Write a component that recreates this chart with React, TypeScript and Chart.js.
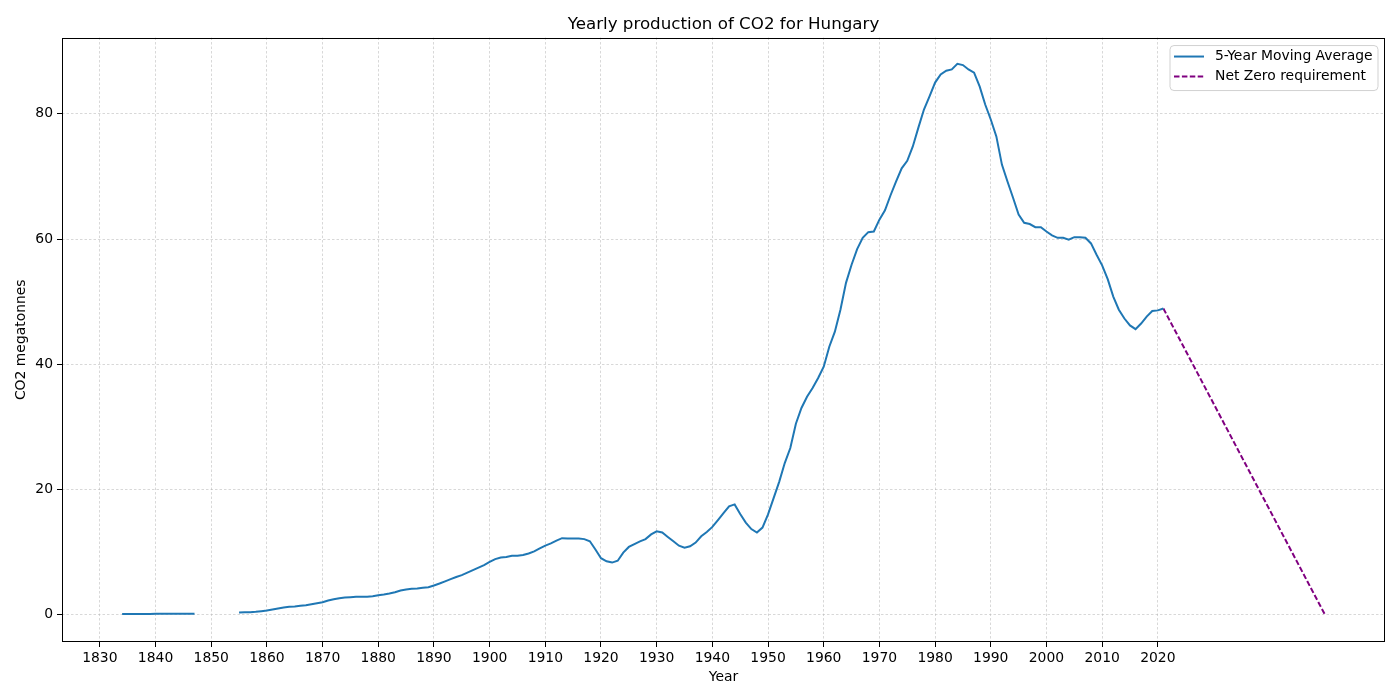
import { useEffect, useRef } from "react";
import { Chart, registerables } from "chart.js";

Chart.register(...registerables);

const FONT = "'DejaVu Sans', 'Liberation Sans', sans-serif";

const chartTitle = "Yearly production of CO2 for Hungary";
const xAxisTitle = "Year";
const yAxisTitle = "CO2 megatonnes";
const seriesLabels = ["5-Year Moving Average", "Net Zero requirement"];

// yearly values starting at firstYear (null = no data)
const firstYear = 1834;
const co2Values: (number | null)[] = [
  // 1834-1847
  0.1, 0.1, 0.1, 0.1, 0.1, 0.1, 0.12, 0.12, 0.12, 0.13, 0.13, 0.13, 0.13, 0.13,
  // 1848-1854
  null, null, null, null, null, null, null,
  // 1855-1889
  0.32, 0.37, 0.37, 0.43, 0.53, 0.64, 0.8, 0.96, 1.12, 1.23, 1.28, 1.39, 1.5, 1.65, 1.81,
  1.97, 2.24, 2.45, 2.61, 2.72, 2.77, 2.83, 2.83, 2.83, 2.93, 3.09, 3.2, 3.36, 3.57, 3.84,
  4.0, 4.1, 4.16, 4.27, 4.37,
  // 1890-1899
  4.64, 4.95, 5.3, 5.65, 6.0, 6.3, 6.7, 7.1, 7.5, 7.9,
  // 1900-1909
  8.4, 8.85, 9.1, 9.2, 9.4, 9.4, 9.5, 9.76, 10.1, 10.56,
  // 1910-1919
  11.0, 11.36, 11.8, 12.2, 12.16, 12.16, 12.16, 12.05, 11.7, 10.4,
  // 1920-1929
  9.0, 8.5, 8.3, 8.6, 9.9, 10.8, 11.25, 11.7, 12.05, 12.8,
  // 1930-1939
  13.3, 13.1, 12.4, 11.7, 11.0, 10.67, 10.9, 11.5, 12.5, 13.2,
  // 1940-1949
  14.0, 15.1, 16.2, 17.3, 17.6, 16.05, 14.7, 13.65, 13.1, 13.9,
  // 1950-1959
  16.0, 18.6, 21.2, 24.2, 26.6, 30.5, 33.0, 34.8, 36.2, 37.8,
  // 1960-1969
  39.6, 42.8, 45.2, 48.7, 53.0, 55.9, 58.4, 60.2, 61.1, 61.2,
  // 1970-1979
  63.1, 64.6, 67.0, 69.2, 71.3, 72.5, 74.8, 77.8, 80.7, 82.8,
  // 1980-1989
  85.0, 86.3, 86.9, 87.1, 88.0, 87.8, 87.1, 86.6, 84.4, 81.5,
  // 1990-1999
  79.1, 76.4, 71.9, 69.2, 66.6, 63.9, 62.6, 62.4, 61.9, 61.9,
  // 2000-2009
  61.2, 60.6, 60.2, 60.2, 59.9, 60.3, 60.3, 60.2, 59.3, 57.5,
  // 2010-2019
  55.8, 53.6, 50.8, 48.7, 47.3, 46.2, 45.6, 46.5, 47.6, 48.5,
  // 2020-2021
  48.6, 48.9,
];

const netZeroYears = [2021, 2050];
const netZeroValues = [48.9, 0];

const xTickYears = [1830, 1840, 1850, 1860, 1870, 1880, 1890, 1900, 1910, 1920, 1930, 1940, 1950, 1960, 1970, 1980, 1990, 2000, 2010, 2020];
const yTickValues = [0, 20, 40, 60, 80];

const BLUE = "#1f77b4";
const PURPLE = "#800080";

const framePlugin = {
  id: "frame",
  afterDraw(chart: any) {
    const { ctx, chartArea: a } = chart;
    ctx.save();
    ctx.strokeStyle = "#000";
    ctx.lineWidth = 1;
    ctx.strokeRect(Math.round(a.left) + 0.5, Math.round(a.top) + 0.5, Math.round(a.right - a.left) - 1, Math.round(a.bottom - a.top) - 1);
    ctx.restore();
  },
};

const legendPlugin = {
  id: "mplLegend",
  afterDraw(chart: any) {
    const { ctx, chartArea: a } = chart;
    const w = 208;
    const h = 45;
    const x = a.right - 7 - w;
    const y = a.top + 8;
    const r = 4;
    ctx.save();
    ctx.beginPath();
    ctx.moveTo(x + r, y);
    ctx.lineTo(x + w - r, y);
    ctx.quadraticCurveTo(x + w, y, x + w, y + r);
    ctx.lineTo(x + w, y + h - r);
    ctx.quadraticCurveTo(x + w, y + h, x + w - r, y + h);
    ctx.lineTo(x + r, y + h);
    ctx.quadraticCurveTo(x, y + h, x, y + h - r);
    ctx.lineTo(x, y + r);
    ctx.quadraticCurveTo(x, y, x + r, y);
    ctx.closePath();
    ctx.fillStyle = "rgba(255,255,255,0.8)";
    ctx.fill();
    ctx.strokeStyle = "rgba(204,204,204,0.9)";
    ctx.lineWidth = 1;
    ctx.stroke();

    const colors = [BLUE, PURPLE];
    const dashes = [[], [5.5, 2.4]];
    seriesLabels.forEach((label, i) => {
      const ly = y + 11 + i * 20;
      ctx.beginPath();
      ctx.setLineDash(dashes[i]);
      ctx.strokeStyle = colors[i];
      ctx.lineWidth = 2;
      ctx.moveTo(x + 4, ly);
      ctx.lineTo(x + 34, ly);
      ctx.stroke();
      ctx.setLineDash([]);
      ctx.fillStyle = "#000";
      ctx.font = `13.9px ${FONT}`;
      ctx.textBaseline = "middle";
      ctx.textAlign = "left";
      ctx.fillText(label, x + 45, ly);
    });
    ctx.restore();
  },
};

export default function App() {
  const canvasRef = useRef<HTMLCanvasElement | null>(null);

  useEffect(() => {
    if (!canvasRef.current) return;
    const mainData = co2Values.map((v, i) => ({ x: firstYear + i, y: v }));
    const nzData = netZeroYears.map((yr, i) => ({ x: yr, y: netZeroValues[i] }));

    const gridCommon = {
      color: "#b0b0b0",
      lineWidth: 0.5,
      drawTicks: true,
      tickLength: 5,
      tickColor: "#000",
      tickWidth: 1,
      tickBorderDash: [],
    };

    const chart = new Chart(canvasRef.current, {
      type: "line",
      data: {
        datasets: [
          {
            label: seriesLabels[0],
            data: mainData as any,
            borderColor: BLUE,
            backgroundColor: BLUE,
            borderWidth: 2,
            pointRadius: 0,
            tension: 0,
            spanGaps: false,
          },
          {
            label: seriesLabels[1],
            data: nzData as any,
            borderColor: PURPLE,
            backgroundColor: PURPLE,
            borderWidth: 2,
            borderDash: [5.5, 2.4],
            pointRadius: 0,
            tension: 0,
          },
        ],
      },
      options: {
        animation: false,
        responsive: false,
        layout: { padding: { left: 0, right: 15, top: 0, bottom: 0 } },
        plugins: {
          legend: { display: false },
          tooltip: { enabled: false },
          title: {
            display: true,
            text: chartTitle,
            fullSize: false,
            color: "#000",
            font: { family: FONT, size: 16.7, weight: "normal" },
            padding: { top: 15, bottom: 2.5 },
          },
        },
        scales: {
          x: {
            type: "linear",
            min: 1823.2,
            max: 2060.8,
            afterBuildTicks: (scale: any) => {
              scale.ticks = xTickYears.map((v) => ({ value: v }));
            },
            afterFit: (scale: any) => {
              scale.height = 58;
            },
            ticks: {
              color: "#000",
              font: { family: FONT, size: 13.9 },
              padding: 3,
              maxRotation: 0,
              autoSkip: false,
              callback: (v: any) => String(v),
            },
            grid: gridCommon,
            border: { display: false, dash: [2.5, 2] },
            title: {
              display: true,
              text: xAxisTitle,
              color: "#000",
              font: { family: FONT, size: 13.9 },
              padding: { top: 0, bottom: 14 },
            },
          },
          y: {
            type: "linear",
            min: -4.39,
            max: 92.2,
            afterBuildTicks: (scale: any) => {
              scale.ticks = yTickValues.map((v) => ({ value: v }));
            },
            afterFit: (scale: any) => {
              scale.width = 62;
            },
            ticks: {
              color: "#000",
              font: { family: FONT, size: 13.9 },
              padding: 4,
              callback: (v: any) => String(v),
            },
            grid: gridCommon,
            border: { display: false, dash: [2.5, 2] },
            title: {
              display: true,
              text: yAxisTitle,
              color: "#000",
              font: { family: FONT, size: 13.9 },
              padding: { top: 12.7, bottom: 0 },
            },
          },
        },
      },
      plugins: [framePlugin, legendPlugin],
    } as any);

    return () => chart.destroy();
  }, []);

  return (
    <div style={{ position: "absolute", left: 0, top: 0, width: 1400, height: 700, background: "#fff" }}>
      <canvas ref={canvasRef} width={1400} height={700} />
    </div>
  );
}
